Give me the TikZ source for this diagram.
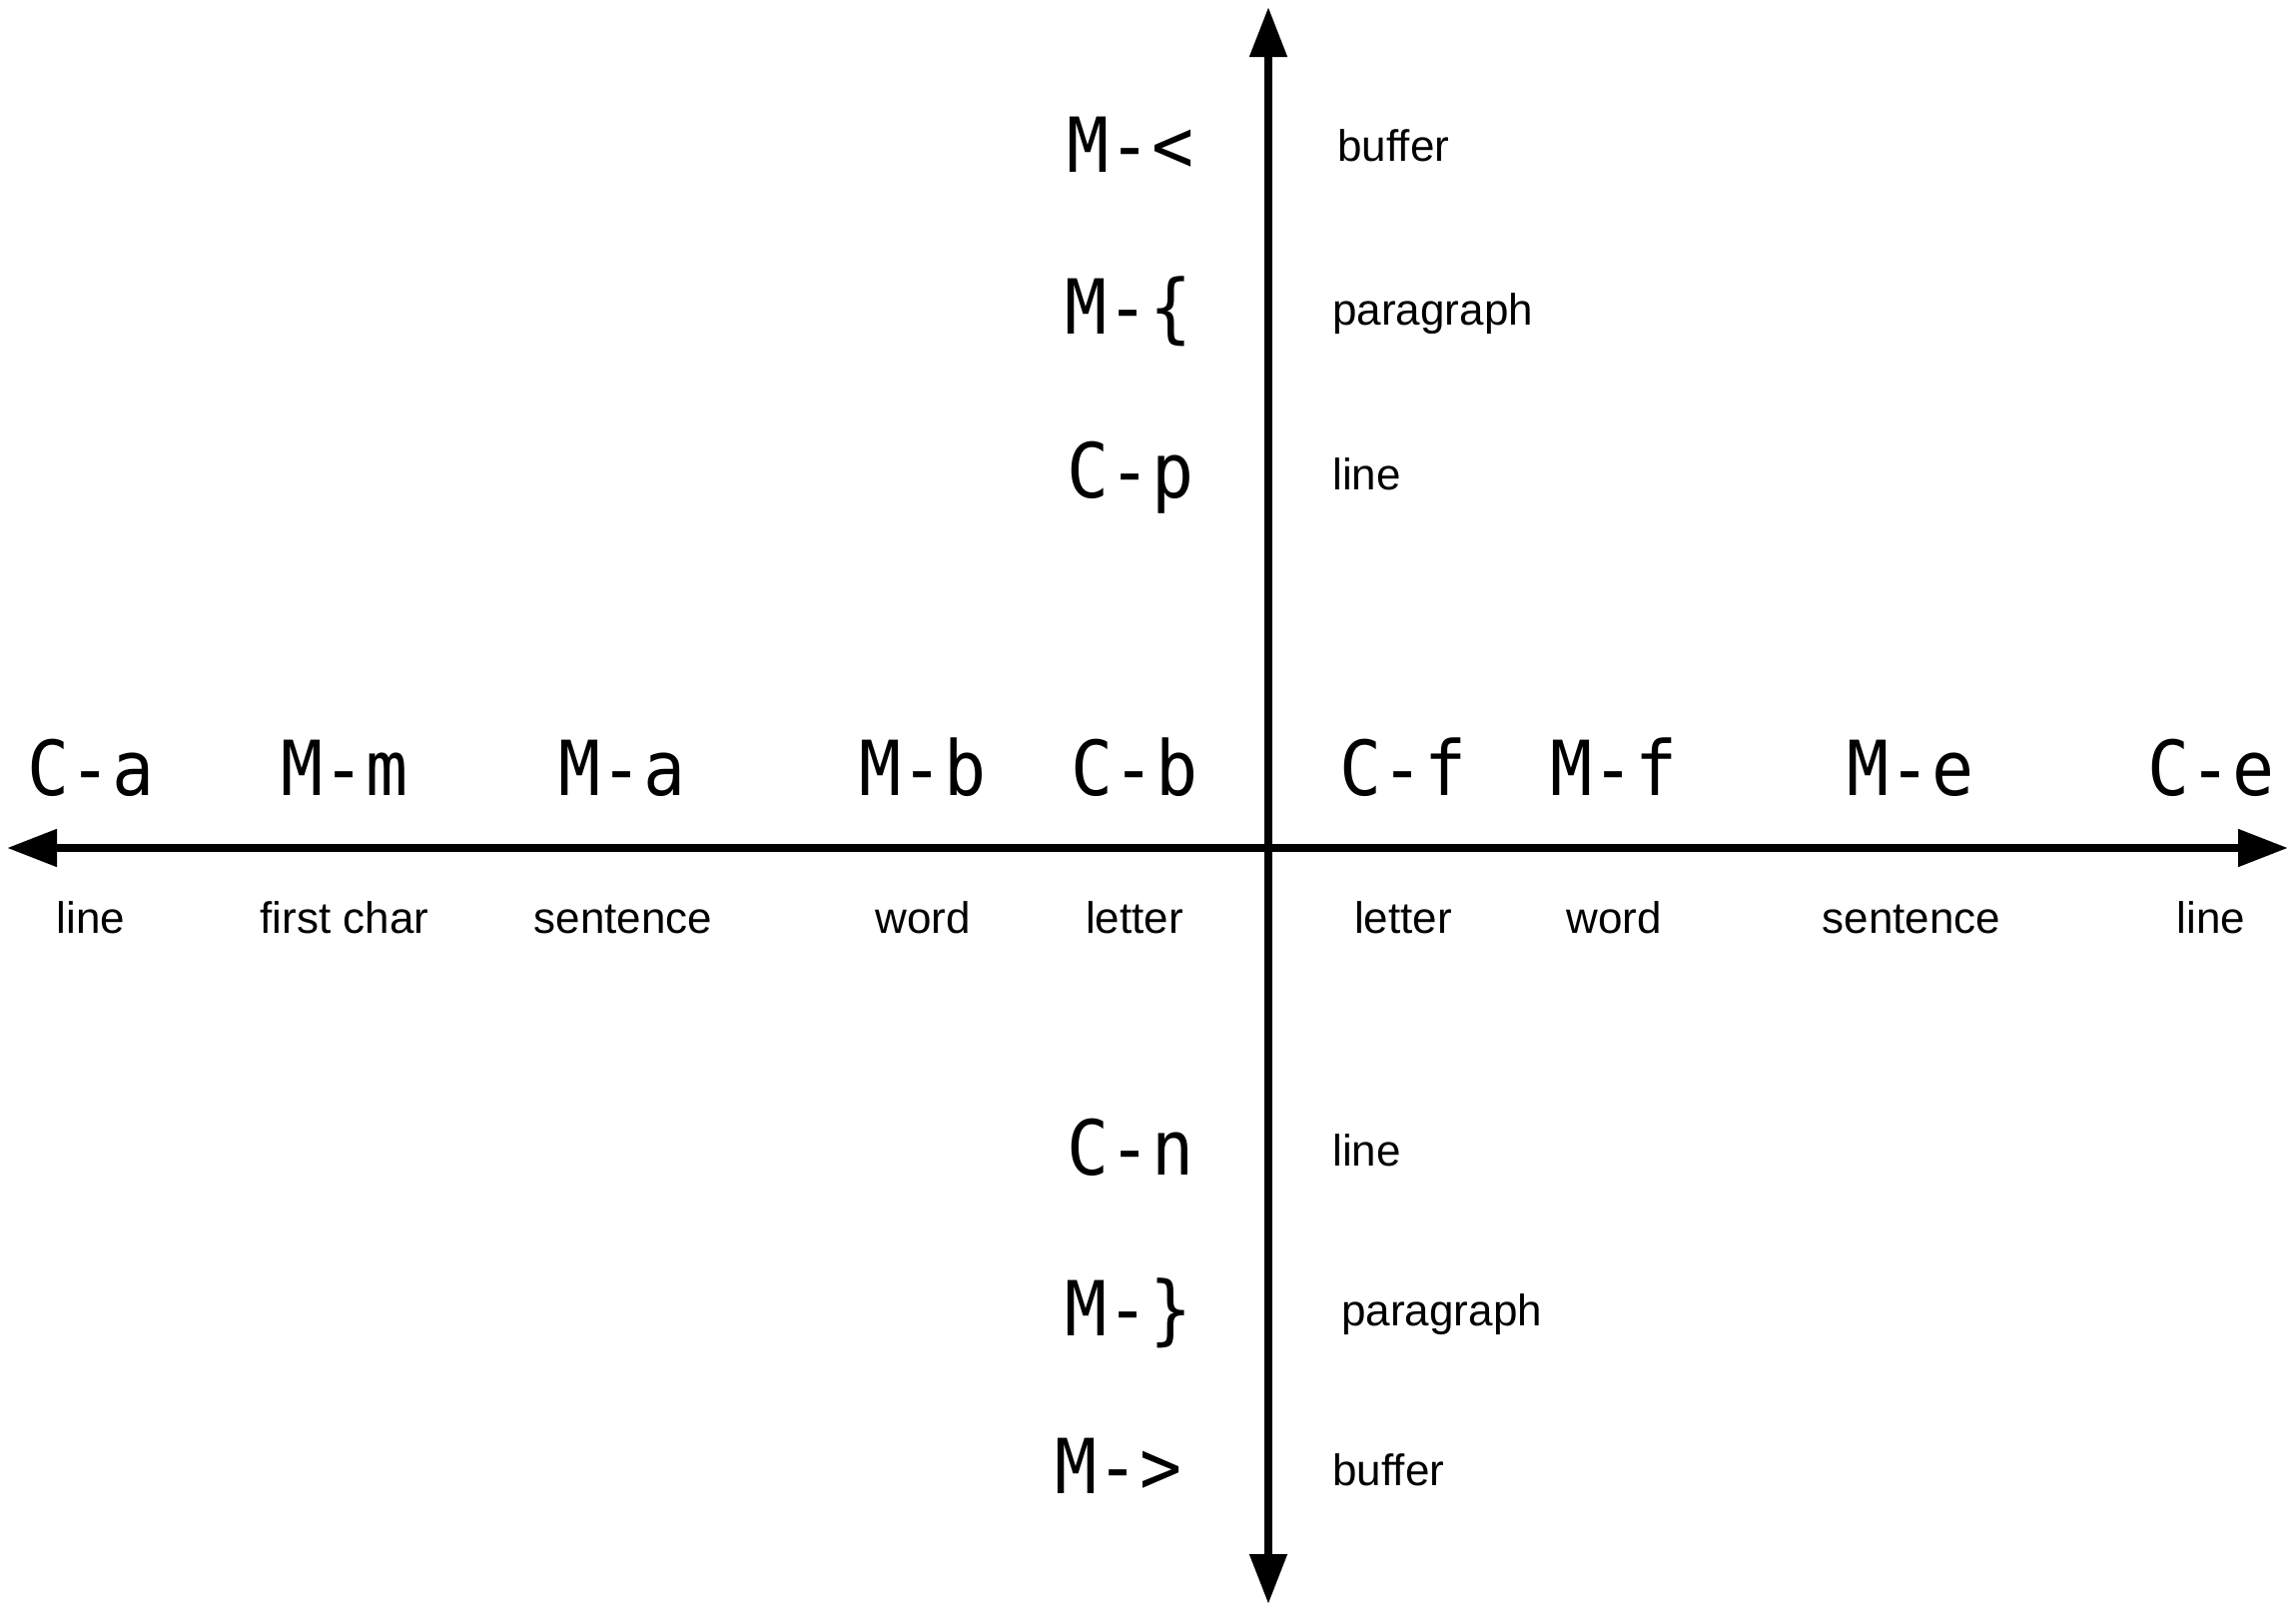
\documentclass[tikz,border=0pt]{standalone}
\usepackage{fontspec}
\setmainfont{Liberation Sans}
\newfontfamily\keyfont[FakeStretch=0.92]{DejaVu Sans Mono}
\usetikzlibrary{arrows.meta}
\begin{document}
\begin{tikzpicture}[x=0.5pt,y=-0.5pt,
  key/.style={font=\keyfont\fontsize{38}{40}\selectfont, inner sep=0pt, anchor=base},
  lbl/.style={font=\fontsize{22}{24}\selectfont, inner sep=0pt, anchor=base},
  lblw/.style={lbl, anchor=base west},
  axis/.style={line width=4pt, {Triangle[length=25pt,width=18pt]}-{Triangle[length=25pt,width=18pt]}}]
\useasboundingbox (0,0) rectangle (2299,1613);
% axes
\coordinate (top) at (1270,7);
\coordinate (bottom) at (1270,1606);
\coordinate (left) at (7,849);
\coordinate (right) at (2291,849);
\draw[axis] (left) -- (right);
\draw[axis] (bottom) -- (top);
% horizontal keys
\node[key] (ca) at (91,796) {C-a};
\node[key] (mm) at (345,796) {M-m};
\node[key] (ma) at (623,796) {M-a};
\node[key] (mb) at (924,796) {M-b};
\node[key] (cb) at (1136,796) {C-b};
\node[key] (cf) at (1405,796) {C-f};
\node[key] (mf) at (1616,796) {M-f};
\node[key] (me) at (1913,796) {M-e};
\node[key] (ce) at (2214,796) {C-e};
% horizontal labels
\node[lbl] (lca) at (91,934) {line};
\node[lbl] (lmm) at (345,934) {first char};
\node[lbl] (lma) at (624,934) {sentence};
\node[lbl] (lmb) at (924,934) {word};
\node[lbl] (lcb) at (1136,934) {letter};
\node[lbl] (lcf) at (1405,934) {letter};
\node[lbl] (lmf) at (1616,934) {word};
\node[lbl] (lme) at (1914,934) {sentence};
\node[lbl] (lce) at (2214,934) {line};
% vertical keys
\node[key] (mlt) at (1132,172) {M-<};
\node[key] (mlb) at (1130,334) {M-\{};
\node[key] (cp) at (1132,498) {C-p};
\node[key] (cn) at (1132,1176) {C-n};
\node[key] (mrb) at (1130,1337) {M-\}};
\node[key] (mgt) at (1120,1495) {M->};
% vertical labels
\node[lblw] (lmlt) at (1339,161) {buffer};
\node[lblw] (lmlb) at (1334,325) {paragraph};
\node[lblw] (lcp) at (1334,490) {line};
\node[lblw] (lcn) at (1334,1167) {line};
\node[lblw] (lmrb) at (1343,1327) {paragraph};
\node[lblw] (lmgt) at (1334,1487) {buffer};
\end{tikzpicture}
\end{document}
